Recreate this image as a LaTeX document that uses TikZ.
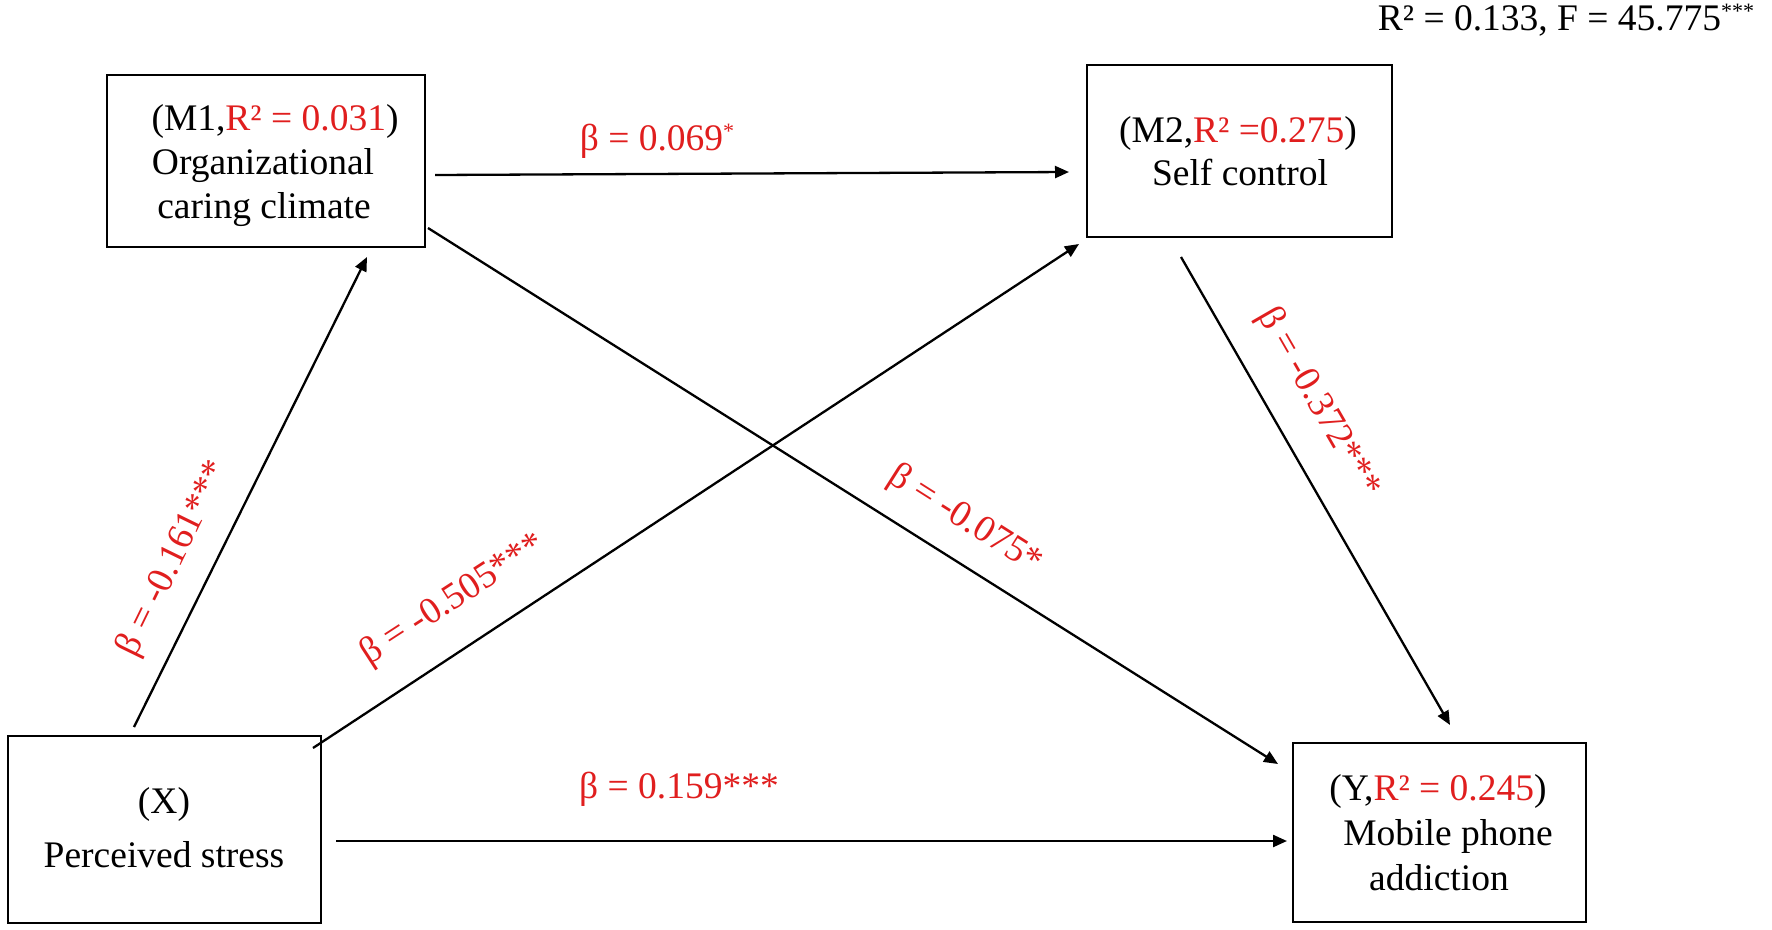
\documentclass[tikz,border=0pt]{standalone}
\usepackage{fontspec}
\setmainfont{Liberation Serif}
\usetikzlibrary{arrows.meta}
\definecolor{cred}{HTML}{E01E1E}
\newcommand\supast[1]{\raisebox{0.32em}{\fontsize{22}{22}\selectfont #1}}
\begin{document}
\begin{tikzpicture}[x=1pt,y=-1pt,
  every node/.style={font=\fontsize{37.5}{45}\selectfont},
  box/.style={draw, line width=2.3pt, inner sep=0pt},
  txt/.style={inner sep=0pt, anchor=base},
  coef/.style={text=cred, inner sep=0pt},
  conn/.style={line width=2.3pt, -{Triangle[length=14pt,width=12pt]}}]
\useasboundingbox (0,0) rectangle (1772,929);

% boxes
\node[box, minimum width=318pt, minimum height=172pt] (m1) at (266,161) {};
\node[box, minimum width=305pt, minimum height=172pt] (m2) at (1239.5,151) {};
\node[box, minimum width=293pt, minimum height=179pt] (y) at (1439.5,832.5) {};
\node[box, minimum width=313pt, minimum height=187pt] (x) at (164.5,829.5) {};

% box texts
\node[txt] (m1a) at (275,130) {(M1,\textcolor{cred}{R² = 0.031})};
\node[txt] (m1b) at (263,174) {Organizational};
\node[txt] (m1c) at (264,218) {caring climate};

\node[txt] (m2a) at (1238,142) {(M2,\textcolor{cred}{R² =0.275})};
\node[txt] (m2b) at (1240,185) {Self control};

\node[txt] (ya) at (1438,800) {(Y,\textcolor{cred}{R² = 0.245})};
\node[txt] (yb) at (1448,845) {Mobile phone};
\node[txt] (yc) at (1439,890) {addiction};

\node[txt] (xa) at (164,813) {(X)};
\node[txt] (xb) at (164,867) {Perceived stress};

% overall fit
\node[txt] (fit) at (1566,30) {R² = 0.133, F = 45.775\supast{***}};

% connector end points
\coordinate (m1m2s) at (435,175);
\coordinate (m1m2e) at (1069,172);
\coordinate (xm1s) at (134,727);
\coordinate (xm1e) at (367,257);
\coordinate (xm2s) at (313,748);
\coordinate (xm2e) at (1079,244);
\coordinate (m1ys) at (428,228);
\coordinate (m1ye) at (1278,764);
\coordinate (m2ys) at (1181,257);
\coordinate (m2ye) at (1450,725);
\coordinate (xys) at (336,841);
\coordinate (xye) at (1287,841);

\draw[conn] (m1m2s) -- (m1m2e);
\draw[conn] (xm1s) -- (xm1e);
\draw[conn] (xm2s) -- (xm2e);
\draw[conn] (m1ys) -- (m1ye);
\draw[conn] (m2ys) -- (m2ye);
\draw[conn] (xys) -- (xye);

% coefficients
\node[coef, anchor=base] (b1) at (657,150) {β = 0.069\supast{*}};
\node[coef, rotate=64] (b2) at (174,559) {β = -0.161***};
\node[coef, rotate=33] (b3) at (453,600) {β = -0.505***};
\node[coef, rotate=-32.4] (b4) at (965,520) {β = -0.075*};
\node[coef, rotate=-60] (b5) at (1318,403) {β = -0.372***};
\node[coef, anchor=base] (b6) at (679,798) {β = 0.159***};
\end{tikzpicture}
\end{document}
